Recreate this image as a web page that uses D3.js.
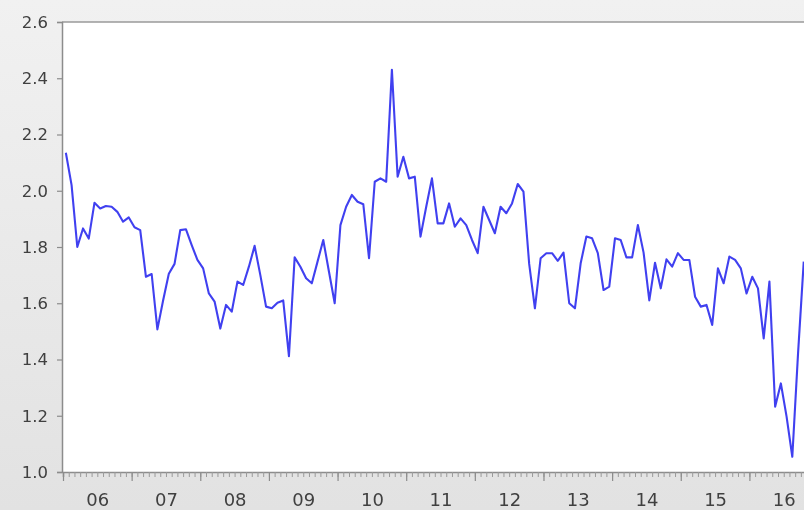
<!DOCTYPE html>
<html>
<head>
<meta charset="utf-8">
<script src="https://cdn.jsdelivr.net/npm/d3@7"></script>
<style>
  html, body { margin: 0; padding: 0; background: #e9e9e9; }
  svg { display: block; }
</style>
</head>
<body>
<svg id="chart" width="804" height="510"></svg>
<script>
// Monthly series, January 2006 through October 2016 (12 values per row)
const firstYear = 2006;
const values = [
  2.135, 2.02, 1.80, 1.866, 1.83, 1.957, 1.937, 1.946, 1.943, 1.925, 1.89, 1.905,
  1.87, 1.86, 1.694, 1.704, 1.507, 1.61, 1.705, 1.74, 1.86, 1.863, 1.807, 1.754,
  1.724, 1.635, 1.606, 1.51, 1.594, 1.57, 1.677, 1.665, 1.73, 1.804, 1.70, 1.588,
  1.582, 1.602, 1.61, 1.412, 1.763, 1.73, 1.689, 1.671, 1.748, 1.825, 1.712, 1.60,
  1.878, 1.943, 1.985, 1.961, 1.952, 1.76, 2.032, 2.044, 2.032, 2.43, 2.05, 2.121,
  2.044, 2.05, 1.837, 1.943, 2.044, 1.884, 1.884, 1.955, 1.872, 1.902, 1.878, 1.825,
  1.778, 1.943, 1.896, 1.849, 1.943, 1.92, 1.955, 2.024, 1.997, 1.74, 1.582, 1.76,
  1.778, 1.778, 1.751, 1.78, 1.60, 1.582, 1.742, 1.837, 1.831, 1.778, 1.647, 1.659,
  1.831, 1.825, 1.763, 1.763, 1.878, 1.78, 1.61, 1.744, 1.653, 1.756, 1.73, 1.778,
  1.754, 1.754, 1.623, 1.588, 1.594, 1.523, 1.724, 1.671, 1.766, 1.754, 1.724, 1.635,
  1.694, 1.653, 1.475, 1.677, 1.232, 1.315, 1.197, 1.054, 1.42, 1.748
];
const yTicks = [1.0, 1.2, 1.4, 1.6, 1.8, 2.0, 2.2, 2.4, 2.6];
const yearLabels = ["06", "07", "08", "09", "10", "11", "12", "13", "14", "15", "16"];

const svg = d3.select("#chart");
const W = 804, H = 510;
const plotLeft = 62, plotTop = 22, plotBottom = 472;
const monthW = 5.72;
const nMonths = values.length;

// soft gray backdrop
const defs = svg.append("defs");
const grad = defs.append("linearGradient").attr("id", "bg").attr("x1", 0).attr("y1", 0).attr("x2", 0).attr("y2", 1);
grad.append("stop").attr("offset", "0%").attr("stop-color", "#f1f1f1");
grad.append("stop").attr("offset", "100%").attr("stop-color", "#e2e2e2");
defs.append("filter").attr("id", "soft").append("feGaussianBlur").attr("stdDeviation", 0.55);
defs.append("filter").attr("id", "softText").append("feGaussianBlur").attr("stdDeviation", 0.4);

svg.append("rect").attr("width", W).attr("height", H).attr("fill", "url(#bg)");

// x: month index (boundaries) -> pixels, point drawn at the middle of its month
const x = d3.scaleLinear().domain([0, nMonths]).range([63, 63 + nMonths * monthW]);
const y = d3.scaleLinear().domain([1.0, 2.6]).range([plotBottom, plotTop]);

// plot area
svg.append("rect")
  .attr("x", plotLeft).attr("y", plotTop)
  .attr("width", W - plotLeft + 10).attr("height", plotBottom - plotTop)
  .attr("fill", "#ffffff");

const axisColor = "#8c8c8c";
const textColor = "#404040";

// top frame line
svg.append("line")
  .attr("x1", plotLeft).attr("x2", W + 5).attr("y1", plotTop).attr("y2", plotTop)
  .attr("stroke", "#9a9a9a").attr("stroke-width", 1.5);

// left axis
const yAxis = svg.append("g")
  .attr("transform", `translate(${plotLeft},0)`)
  .call(d3.axisLeft(y).tickValues(yTicks).tickFormat(d3.format(".1f")).tickSize(5).tickPadding(9));
yAxis.select(".domain").attr("stroke", axisColor).attr("stroke-width", 1.5);
yAxis.selectAll(".tick line").attr("stroke", axisColor).attr("stroke-width", 1.2);
yAxis.selectAll("text")
  .attr("fill", textColor)
  .attr("filter", "url(#softText)")
  .style("font-family", "'DejaVu Sans', sans-serif")
  .style("font-size", "16.5px");

// bottom axis: monthly minor ticks
const monthTicks = d3.range(0, nMonths + 1);
const xMinor = svg.append("g")
  .attr("transform", `translate(0,${plotBottom})`)
  .call(d3.axisBottom(x).tickValues(monthTicks).tickFormat("").tickSize(5));
xMinor.select(".domain").attr("stroke", axisColor).attr("stroke-width", 1.5);
xMinor.selectAll(".tick line").attr("stroke", "#9a9a9a").attr("stroke-width", 1);

// yearly major ticks
const yearTicks = d3.range(0, nMonths + 1, 12);
const xMajor = svg.append("g")
  .attr("transform", `translate(0,${plotBottom})`)
  .call(d3.axisBottom(x).tickValues(yearTicks).tickFormat("").tickSize(9));
xMajor.select(".domain").remove();
xMajor.selectAll(".tick line").attr("stroke", "#8c8c8c").attr("stroke-width", 1.2);

// year labels centred on each year
const yearCenters = yearLabels.map((_, k) => k * 12 + 6);
const xLabels = svg.append("g")
  .attr("transform", `translate(0,${plotBottom})`)
  .call(d3.axisBottom(x).tickValues(yearCenters).tickFormat((d, k) => yearLabels[k]).tickSize(0).tickPadding(21));
xLabels.select(".domain").remove();
xLabels.selectAll("text")
  .attr("fill", textColor)
  .attr("filter", "url(#softText)")
  .style("font-family", "'DejaVu Sans', sans-serif")
  .style("font-size", "18px");

// series line
const line = d3.line()
  .x((d, i) => x(i + 0.5))
  .y(d => y(d));

svg.append("path")
  .datum(values)
  .attr("d", line)
  .attr("fill", "none")
  .attr("stroke", "#4141f0")
  .attr("stroke-width", 2.1)
  .attr("stroke-linejoin", "round")
  .attr("filter", "url(#soft)");
</script>
</body>
</html>
